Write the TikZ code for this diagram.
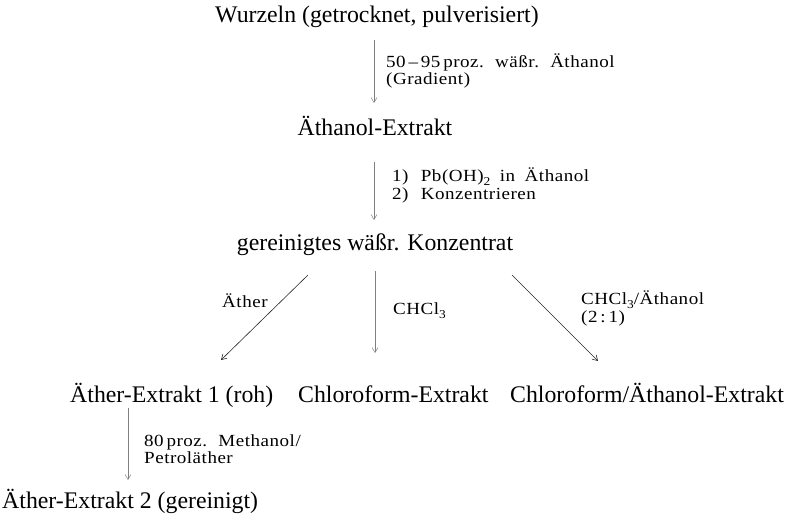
\documentclass[tikz,border=0pt]{standalone}
\usepackage{fontspec}
\setmainfont{Liberation Serif}
\newfontfamily\lblfam{Liberation Serif}[FakeStretch=1.12,LetterSpace=3,WordSpace=1.8]
\usetikzlibrary{arrows.meta,calc}
\newcommand\lowidx[1]{\raisebox{-0.2em}{\fontsize{12}{12}\selectfont #1}}
\tikzset{
  main/.style={inner sep=0pt,font=\fontsize{23.8}{28}\selectfont},
  lbl/.style={inner sep=0pt,anchor=base west,font=\lblfam\fontsize{17}{17}\selectfont},
  varr/.style={draw=black!50,line width=0.5pt,-{Straight Barb[length=5pt,width=6pt]}},
  darr/.style={draw=black!85,line width=0.6pt,-{Straight Barb[length=5pt,width=6pt]}}
}
\begin{document}
\begin{tikzpicture}[x=1pt,y=-1pt]
\useasboundingbox (0,0) rectangle (796,521);
% main texts
\node[main,anchor=base] (wurz) at (377,23) {Wurzeln (getrocknet, pulverisiert)};
\node[main,anchor=base] (aeth) at (375,136) {Äthanol-Extrakt};
\node[main,anchor=base] (konz) at (375,251) {gereinigtes wäßr. Konzentrat};
\node[main,anchor=base west] (ae1) at (70,403) {Äther-Extrakt 1 (roh)};
\node[main,anchor=base west] (chl) at (298,403) {Chloroform-Extrakt};
\node[main,anchor=base west] (chae) at (510,403) {Chloroform/Äthanol-Extrakt};
\node[main,anchor=base west] (ae2) at (2,508) {Äther-Extrakt 2 (gereinigt)};
% labels
\node[lbl] (l1a) at (386,68) {50\,–\,95\,proz. wäßr. Äthanol};
\node[lbl] (l1b) at (386,85) {(Gradient)};
\node[lbl] (l2a) at (392,182) {1)\, Pb(OH)\lowidx{2} in Äthanol};
\node[lbl] (l2b) at (392,200) {2)\, Konzentrieren};
\node[lbl] (l3) at (222,308) {Äther};
\node[lbl] (l4) at (393,315) {CHCl\lowidx{3}};
\node[lbl] (l5a) at (581,305) {CHCl\lowidx{3}/Äthanol};
\node[lbl] (l5b) at (581,323) {(2\,:\,1)};
\node[lbl] (l6a) at (144,447) {80\,proz. Methanol/};
\node[lbl] (l6b) at (144,464) {Petroläther};
% arrows
\draw[varr] ($(wurz.base)+(-3,17)$) -- ($(aeth.base)+(-1,-33)$);
\draw[varr] ($(aeth.base)+(-1,26)$) -- ($(konz.base)+(-1,-31)$);
\draw[darr] ($(konz.base)+(-67,24)$) -- ($(ae1.base west)+(151,-43)$);
\draw[varr] ($(konz.base)+(0,20)$) -- ($(chl.base west)+(77,-50)$);
\draw[darr] ($(konz.base)+(137,24)$) -- ($(chae.base west)+(88,-42)$);
\draw[varr] ($(ae1.base west)+(58,5)$) -- ($(ae2.base west)+(126,-28)$);
\end{tikzpicture}
\end{document}
